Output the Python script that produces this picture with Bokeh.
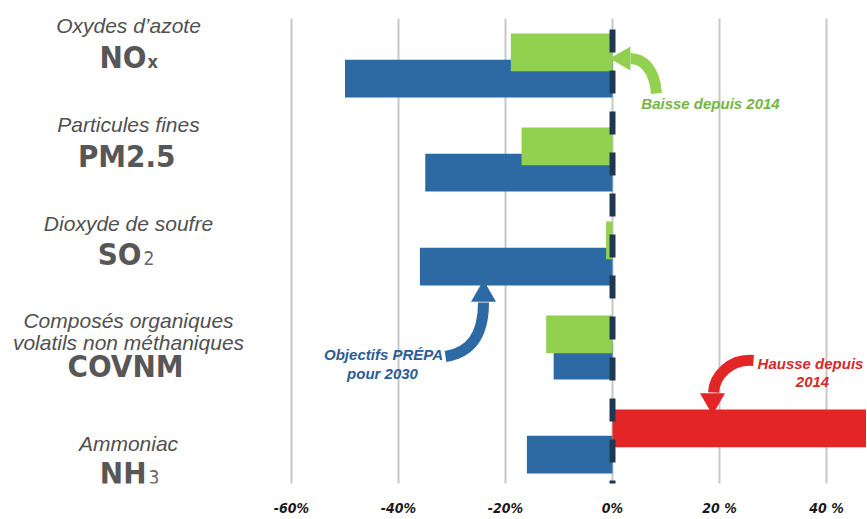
from bokeh.plotting import figure
from bokeh.models import Range1d, FixedTicker, ColumnDataSource
from bokeh.transform import dodge
from bokeh.core.properties import value
from bokeh.embed import file_html
from bokeh.resources import INLINE

# ---- data ----
categories = ["Oxydes d’azote", "Particules fines", "Dioxyde de soufre",
              "Composés organiques\nvolatils non méthaniques", "Ammoniac"]
formulas = ["NO", "PM2.5", "SO", "COVNM", "NH"]
subscripts = ["x", "", "2", "", "3"]
objectif_2030 = [-50, -35, -36, -11, -16]          # Objectifs PRÉPA pour 2030 (%)
evolution_2014 = [-19, -17, -1.2, -12.4, 50]       # évolution depuis 2014 (%)
tick_values = [-60, -40, -20, 0, 20, 40]
tick_labels = ["-60%", "-40%", "-20%", "0%", "20 %", "40 %"]

# ---- styles ----
BLUE = "#2d6aa3"
GREEN = "#92d050"
RED = "#e32526"
NAVY = "#1e3854"
GRID = "#c8c8c8"
COND = "DejaVu Sans Condensed"
SANS = "Liberation Sans"

W, H = 866, 518
PX = 5.35     # px per %
ZERO = 612    # px of 0 %
ROW0 = 65     # px of first row centre
ROWPX = 94.0  # px per row
FRAME_H = 483

n = len(categories)
idx = list(range(n))

def X(px):
    return (px - ZERO) / PX

def Y(py):
    return (py - ROW0) / ROWPX

p = figure(width=W, height=H, output_backend="svg", toolbar_location=None,
           x_range=Range1d(X(0), X(W)), y_range=Range1d(Y(FRAME_H), Y(0)),
           y_axis_location=None, min_border=0, min_border_left=0, min_border_right=0,
           min_border_top=0, min_border_bottom=0)
p.outline_line_color = None
p.xgrid.grid_line_color = None
p.ygrid.grid_line_color = None

ax = p.xaxis[0]
ax.ticker = FixedTicker(ticks=tick_values)
ax.major_label_overrides = {v: l for v, l in zip(tick_values, tick_labels)}
ax.axis_line_color = None
ax.major_tick_line_color = None
ax.minor_tick_line_color = None
ax.major_tick_out = 0
ax.major_tick_in = 0
ax.minor_tick_out = 0
ax.major_label_standoff = 16
ax.major_label_text_font = COND
ax.major_label_text_font_style = "bold italic"
ax.major_label_text_font_size = "14px"
ax.major_label_text_color = "#1a1a1a"

# grid lines spanning the category band
p.segment(x0=tick_values, x1=tick_values, y0=[-0.5] * len(tick_values),
          y1=[n - 0.5] * len(tick_values), line_color=GRID, line_width=2)

src = ColumnDataSource(dict(
    idx=idx,
    objectif=objectif_2030,
    evolution=evolution_2014,
    color=[GREEN if v < 0 else RED for v in evolution_2014],
))

p.hbar(y=dodge("idx", 0.14, range=p.y_range), left=0, right="objectif", height=0.40,
       source=src, fill_color=BLUE, line_color=None)
p.hbar(y=dodge("idx", -0.14, range=p.y_range), left=0, right="evolution", height=0.40,
       source=src, fill_color="color", line_color=None)

# dashed zero line
p.segment(x0=[0], x1=[0], y0=[-0.5], y1=[n - 0.5], line_color=NAVY, line_width=6,
          line_dash="23 18", line_dash_offset=30)

# ---- left category labels (y offsets: px of text centre from row centre) ----
title_offsets = [[-40.5], [-35.5], [-30.5], [-27, -5], [1.5]]
formula_offsets = [-9, -4, 0, 18.5, 31]
sub_offsets = [-4.5, 0.5, 4.5, 23, 35.5]
formula_right = [146, 175, 141, 183, 146]                  # px right edge of formula

tx, ty, tt = [], [], []
for i, cat in enumerate(categories):
    for line, off in zip(cat.split("\n"), title_offsets[i]):
        tx.append(X(128))
        ty.append(i + off / ROWPX)
        tt.append(line)
p.text(x=tx, y=ty, text=tt, text_align="center", text_baseline="middle",
       text_font=value(SANS), text_font_style="italic", text_font_size="21px",
       text_color="#505050")

fx = [X(r) for r in formula_right]
fy = [i + o / ROWPX for i, o in zip(idx, formula_offsets)]
sy = [i + o / ROWPX for i, o in zip(idx, sub_offsets)]
p.text(x=fx, y=fy, text=formulas, text_align="right", text_baseline="middle",
       text_font=value(COND), text_font_style="bold", text_font_size="31px",
       text_color="#575757")
sub_bold = [s if s.isalpha() else "" for s in subscripts]
sub_reg = [s if s.isdigit() else "" for s in subscripts]
p.text(x=fx, y=sy, text=sub_bold, text_align="left", text_baseline="middle",
       text_font=value(COND), text_font_style="bold", text_font_size="18px",
       text_color="#575757", x_offset=1)
p.text(x=fx, y=sy, text=sub_reg, text_align="left", text_baseline="middle",
       text_font=value(COND), text_font_style="normal", text_font_size="19px",
       text_color="#666666", x_offset=2)

# ---- annotations ----
# green: Baisse depuis 2014
p.bezier(x0=[X(656)], y0=[Y(93)], cx0=[X(654)], cy0=[Y(68)], cx1=[X(642)], cy1=[Y(58)],
         x1=[X(630)], y1=[Y(58)], line_color=GREEN, line_width=11)
p.scatter(x=[X(623)], y=[Y(58)], marker="triangle", size=24, angle=1.5708,
          fill_color=GREEN, line_color=None)
p.text(x=[X(710)], y=[Y(103)], text=["Baisse depuis 2014"], text_align="center",
       text_baseline="middle", text_font=value(SANS), text_font_style="bold italic",
       text_font_size="15px", text_color="#74b640")

# blue: Objectifs PRÉPA pour 2030
p.bezier(x0=[X(445)], y0=[Y(356)], cx0=[X(470)], cy0=[Y(352)], cx1=[X(483)], cy1=[Y(335)],
         x1=[X(483)], y1=[Y(302)], line_color=BLUE, line_width=11)
p.scatter(x=[X(483)], y=[Y(294)], marker="triangle", size=25, angle=0,
          fill_color=BLUE, line_color=None)
p.text(x=[X(383), X(382)], y=[Y(354), Y(373)], text=["Objectifs PRÉPA", "pour 2030"],
       text_align="center", text_baseline="middle", text_font=value(SANS),
       text_font_style="bold italic", text_font_size="15px", text_color="#2a5d95")

# red: Hausse depuis 2014
p.bezier(x0=[X(753)], y0=[Y(360)], cx0=[X(730)], cy0=[Y(358)], cx1=[X(714)], cy1=[Y(375)],
         x1=[X(713)], y1=[Y(392)], line_color=RED, line_width=11)
p.scatter(x=[X(712)], y=[Y(400)], marker="triangle", size=25, angle=3.1416,
          fill_color=RED, line_color=None)
p.text(x=[X(810), X(812)], y=[Y(363), Y(381)], text=["Hausse depuis", "2014"],
       text_align="center", text_baseline="middle", text_font=value(SANS),
       text_font_style="bold italic", text_font_size="15px", text_color="#d42a2a")

open("out.html", "w").write(file_html(p, INLINE))
